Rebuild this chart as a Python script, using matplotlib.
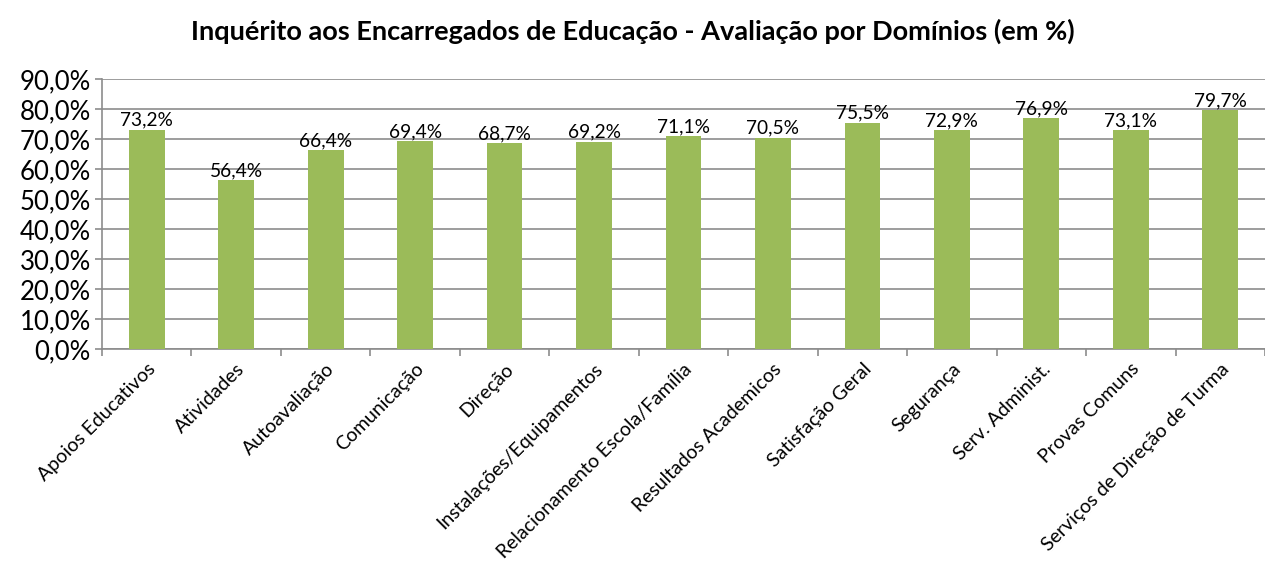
import matplotlib
matplotlib.use("Agg")
import matplotlib.pyplot as plt
import numpy as np

categories = [
    "Apoios Educativos", "Atividades", "Autoavaliação", "Comunicação", "Direção",
    "Instalações/Equipamentos", "Relacionamento Escola/Família", "Resultados Academicos",
    "Satisfação Geral", "Segurança", "Serv. Administ.", "Provas Comuns",
    "Serviços de Direção de Turma",
]
values = [73.2, 56.4, 66.4, 69.4, 68.7, 69.2, 71.1, 70.5, 75.5, 72.9, 76.9, 73.1, 79.7]
y_ticks = [0, 10, 20, 30, 40, 50, 60, 70, 80, 90]

plt.rcParams["font.family"] = ["Lato", "DejaVu Sans"]

fig = plt.figure(figsize=(12.65, 5.65), dpi=100)
ax = fig.add_axes([0.0806, 0.382, 0.9194, 0.478])

x = np.arange(len(categories))
ax.bar(x, values, width=0.4, color="#9BBB59", zorder=3)
for xi, v in zip(x, values):
    ax.text(xi, v + 0.3, f"{v:.1f}%".replace(".", ","), ha="center", va="bottom",
            fontsize=13.8, color="black", zorder=4)

ax.set_xlim(-0.5, len(categories) - 0.5)
ax.set_ylim(0, 90)
ax.set_yticks(y_ticks)
ax.set_yticklabels([f"{t:.1f}%".replace(".", ",") for t in y_ticks], fontsize=18.5)
ax.yaxis.grid(True, color="#8c8c8c", linewidth=1.2, zorder=0)

ax.set_xticks(x)
ax.set_xticklabels(categories, rotation=45, ha="right", rotation_mode="anchor", fontsize=14)
ax.tick_params(axis="x", length=0, pad=8)
ax.set_xticks(np.arange(len(categories) + 1) - 0.5, minor=True)
ax.tick_params(axis="x", which="minor", length=5, color="#8c8c8c", width=1.2)
ax.tick_params(axis="y", length=5, color="#8c8c8c", width=1.2, pad=3)

for side in ["top", "right"]:
    ax.spines[side].set_visible(False)
for side in ["left", "bottom"]:
    ax.spines[side].set_color("#8c8c8c")
    ax.spines[side].set_linewidth(1.2)

fig.text(0.5, 0.945, "Inquérito aos Encarregados de Educação - Avaliação por Domínios (em %)",
         ha="center", va="center", fontsize=19.5, fontweight="bold")

fig.savefig("out.png", dpi=100)
